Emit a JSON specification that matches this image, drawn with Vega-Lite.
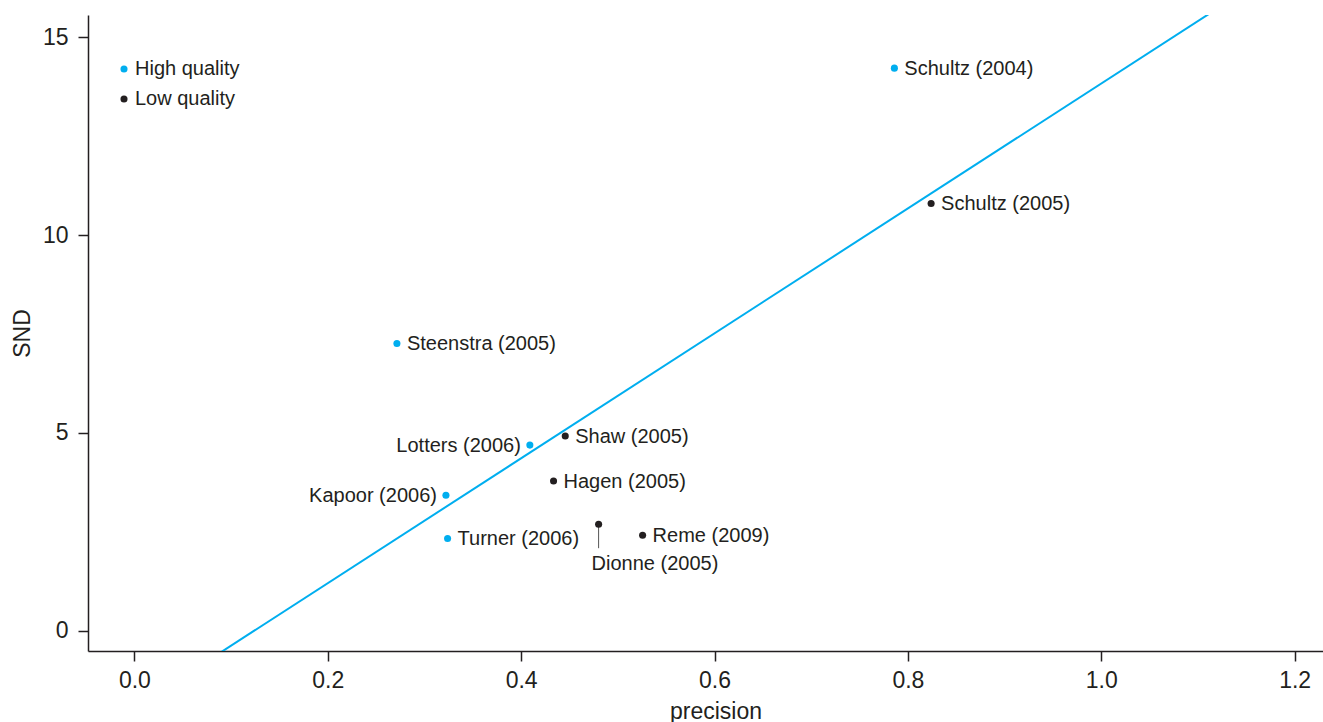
{
  "$schema": "https://vega.github.io/schema/vega-lite/v6.json",
  "autosize": {"type": "none"},
  "padding": {"left": 88, "top": 15, "right": 0, "bottom": 71},
  "width": 1255,
  "height": 636,
  "background": "white",
  "config": {
    "view": {"stroke": null},
    "font": "Liberation Sans",
    "axis": {
      "grid": false,
      "domainColor": "#231f20",
      "domainWidth": 1.5,
      "tickColor": "#231f20",
      "tickWidth": 1.5,
      "tickSize": 10,
      "labelFont": "Liberation Sans",
      "labelFontSize": 23,
      "labelColor": "#231f20",
      "titleFont": "Liberation Sans",
      "titleFontSize": 23,
      "titleFontWeight": "normal",
      "titleColor": "#231f20"
    }
  },
  "datasets": {
    "studies": [
      {"study": "Schultz (2004)", "quality": "High quality", "precision": 0.786, "SND": 14.22, "side": "right"},
      {"study": "Schultz (2005)", "quality": "Low quality", "precision": 0.824, "SND": 10.80, "side": "right"},
      {"study": "Steenstra (2005)", "quality": "High quality", "precision": 0.2715, "SND": 7.26, "side": "right"},
      {"study": "Lotters (2006)", "quality": "High quality", "precision": 0.409, "SND": 4.69, "side": "left"},
      {"study": "Shaw (2005)", "quality": "Low quality", "precision": 0.4456, "SND": 4.92, "side": "right"},
      {"study": "Hagen (2005)", "quality": "Low quality", "precision": 0.4335, "SND": 3.78, "side": "right"},
      {"study": "Kapoor (2006)", "quality": "High quality", "precision": 0.3222, "SND": 3.42, "side": "left"},
      {"study": "Turner (2006)", "quality": "High quality", "precision": 0.3239, "SND": 2.33, "side": "right"},
      {"study": "Dionne (2005)", "quality": "Low quality", "precision": 0.4801, "SND": 2.69, "side": "below"},
      {"study": "Reme (2009)", "quality": "Low quality", "precision": 0.5256, "SND": 2.41, "side": "right"}
    ],
    "fit": [
      {"precision": 0.0, "SND": -1.96},
      {"precision": 1.25, "SND": 17.78}
    ]
  },
  "layer": [
    {
      "data": {"name": "fit"},
      "mark": {"type": "line", "color": "#00aeef", "strokeWidth": 2, "clip": true},
      "encoding": {
        "x": {"field": "precision", "type": "quantitative"},
        "y": {"field": "SND", "type": "quantitative"}
      }
    },
    {
      "data": {"name": "studies"},
      "transform": [{"filter": "datum.side === 'below'"}],
      "mark": {"type": "rule", "color": "#555555", "strokeWidth": 1, "y2Offset": 24},
      "encoding": {
        "x": {"field": "precision", "type": "quantitative"},
        "y": {"field": "SND", "type": "quantitative"},
        "y2": {"field": "SND"}
      }
    },
    {
      "data": {"name": "studies"},
      "mark": {"type": "point", "filled": true, "opacity": 1, "size": 50, "shape": "circle"},
      "encoding": {
        "x": {
          "field": "precision", "type": "quantitative",
          "scale": {"domain": [-0.048, 1.25], "nice": false, "zero": false},
          "axis": {"values": [0, 0.2, 0.4, 0.6, 0.8, 1.0, 1.2], "format": ".1f", "labelPadding": 8, "title": "precision", "titlePadding": 8}
        },
        "y": {
          "field": "SND", "type": "quantitative",
          "scale": {"domain": [-0.516, 15.564], "nice": false, "zero": false},
          "axis": {"values": [0, 5, 10, 15], "labelPadding": 10, "title": "SND", "titlePadding": 8}
        },
        "color": {
          "field": "quality", "type": "nominal",
          "scale": {"domain": ["High quality", "Low quality"], "range": ["#00aeef", "#231f20"]},
          "legend": {
            "orient": "none", "legendX": 26, "legendY": 44, "title": null,
            "symbolType": "circle", "symbolSize": 50, "labelFontSize": 20,
            "labelColor": "#231f20", "labelFont": "Liberation Sans",
            "rowPadding": 10, "padding": 0, "labelOffset": 1
          }
        }
      }
    },
    {
      "data": {"name": "studies"},
      "transform": [{"filter": "datum.side === 'right'"}],
      "mark": {"type": "text", "align": "left", "baseline": "middle", "dx": 10, "dy": 1, "fontSize": 20, "color": "#231f20"},
      "encoding": {
        "x": {"field": "precision", "type": "quantitative"},
        "y": {"field": "SND", "type": "quantitative"},
        "text": {"field": "study"}
      }
    },
    {
      "data": {"name": "studies"},
      "transform": [{"filter": "datum.side === 'left'"}],
      "mark": {"type": "text", "align": "right", "baseline": "middle", "dx": -9, "dy": 1, "fontSize": 20, "color": "#231f20"},
      "encoding": {
        "x": {"field": "precision", "type": "quantitative"},
        "y": {"field": "SND", "type": "quantitative"},
        "text": {"field": "study"}
      }
    },
    {
      "data": {"name": "studies"},
      "transform": [{"filter": "datum.side === 'below'"}],
      "mark": {"type": "text", "align": "left", "baseline": "middle", "dx": -7, "dy": 40, "fontSize": 20, "color": "#231f20"},
      "encoding": {
        "x": {"field": "precision", "type": "quantitative"},
        "y": {"field": "SND", "type": "quantitative"},
        "text": {"field": "study"}
      }
    }
  ]
}
